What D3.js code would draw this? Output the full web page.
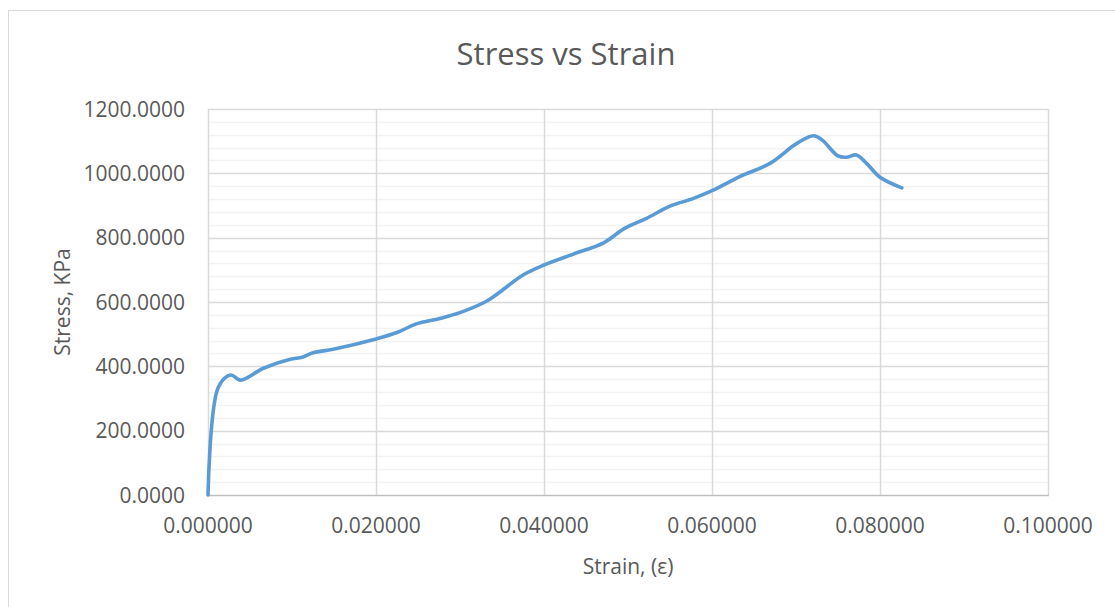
<!DOCTYPE html>
<html>
<head>
<meta charset="utf-8">
<script src="https://cdn.jsdelivr.net/npm/d3@7"></script>
<style>
  body { margin: 0; background: #fff; }
  text { font-family: "Open Sans", sans-serif; fill: #595959; }
</style>
</head>
<body>
<div id="chart"></div>
<script>
// DATA
const strain = [0, 0.00123, 0.0027, 0.0039, 0.0066, 0.0098, 0.0112, 0.0125, 0.0149, 0.0200,
  0.0225, 0.0248, 0.0276, 0.0300, 0.0332, 0.0348, 0.0375, 0.0400, 0.0435, 0.0471, 0.0496,
  0.0522, 0.0550, 0.0578, 0.0600, 0.0633, 0.0669, 0.0701, 0.0721, 0.0731, 0.0750, 0.0760,
  0.0772, 0.0784, 0.0800, 0.0826];
const stress = [0, 335, 373, 357, 394, 422, 428, 442, 453, 485,
  505, 532, 549, 567, 603, 632, 684, 715, 749, 784, 829,
  860, 898, 922, 946, 990, 1031, 1093, 1117, 1104, 1054, 1050,
  1057, 1031, 988, 955];
const xTicks = [0, 0.02, 0.04, 0.06, 0.08, 0.1];
const yTicks = [0, 200, 400, 600, 800, 1000, 1200];

// LAYOUT
const width = 1115, height = 607;
const plot = { left: 208, right: 1048, top: 109, bottom: 495 };

const svg = d3.select("#chart").append("svg")
  .attr("width", width).attr("height", height);

// outer chart border
svg.append("rect")
  .attr("x", 8.5).attr("y", 10.5)
  .attr("width", width + 10).attr("height", height + 10)
  .attr("fill", "none").attr("stroke", "#d9d9d9");

const x = d3.scaleLinear().domain([0, 0.1]).range([plot.left, plot.right]);
const y = d3.scaleLinear().domain([0, 1200]).range([plot.bottom, plot.top]);

// minor horizontal grid
svg.append("g").selectAll("line")
  .data(d3.range(0, 1201, 40).filter(v => v % 200 !== 0))
  .join("line")
  .attr("x1", plot.left).attr("x2", plot.right)
  .attr("y1", d => Math.round(y(d)) + 0.5).attr("y2", d => Math.round(y(d)) + 0.5)
  .attr("stroke", "#f2f2f2").attr("stroke-width", 1.5);

// major grid
svg.append("g").selectAll("line")
  .data(yTicks.slice(1))
  .join("line")
  .attr("x1", plot.left).attr("x2", plot.right)
  .attr("y1", d => Math.round(y(d)) + 0.5).attr("y2", d => Math.round(y(d)) + 0.5)
  .attr("stroke", "#d9d9d9").attr("stroke-width", 1.5);

svg.append("g").selectAll("line")
  .data(xTicks)
  .join("line")
  .attr("x1", d => Math.round(x(d)) + 0.5).attr("x2", d => Math.round(x(d)) + 0.5)
  .attr("y1", plot.top).attr("y2", plot.bottom)
  .attr("stroke", "#d9d9d9").attr("stroke-width", 1.5);

// x axis line
svg.append("line")
  .attr("x1", plot.left).attr("x2", plot.right + 1)
  .attr("y1", plot.bottom + 0.5).attr("y2", plot.bottom + 0.5)
  .attr("stroke", "#bfbfbf").attr("stroke-width", 1.5);

// tick labels
svg.append("g").selectAll("text")
  .data(xTicks)
  .join("text")
  .attr("x", d => x(d)).attr("y", 533)
  .attr("text-anchor", "middle")
  .style("font-size", "21px")
  .text(d => d3.format(".6f")(d));

svg.append("g").selectAll("text")
  .data(yTicks)
  .join("text")
  .attr("x", 185).attr("y", d => y(d))
  .attr("dy", "0.36em")
  .attr("text-anchor", "end")
  .style("font-size", "21px")
  .text(d => d3.format(".4f")(d));

// line
const line = d3.line()
  .x((d, i) => x(strain[i]))
  .y(d => y(d))
  .curve(d3.curveCatmullRom.alpha(0.5));

svg.append("path")
  .datum(stress)
  .attr("d", line)
  .attr("fill", "none")
  .attr("stroke", "#5b9bd5")
  .attr("stroke-width", 3.6)
  .attr("stroke-linecap", "round")
  .attr("stroke-linejoin", "round");

// titles
svg.append("text")
  .attr("x", 566).attr("y", 65)
  .attr("text-anchor", "middle")
  .style("font-size", "31px")
  .text("Stress vs Strain");

svg.append("text")
  .attr("x", 628).attr("y", 574)
  .attr("text-anchor", "middle")
  .style("font-size", "21px")
  .text("Strain, (ε)");

svg.append("text")
  .attr("transform", "translate(70," + ((plot.top + plot.bottom) / 2) + ") rotate(-90)")
  .attr("text-anchor", "middle")
  .style("font-size", "21px")
  .text("Stress, KPa");
</script>
</body>
</html>
